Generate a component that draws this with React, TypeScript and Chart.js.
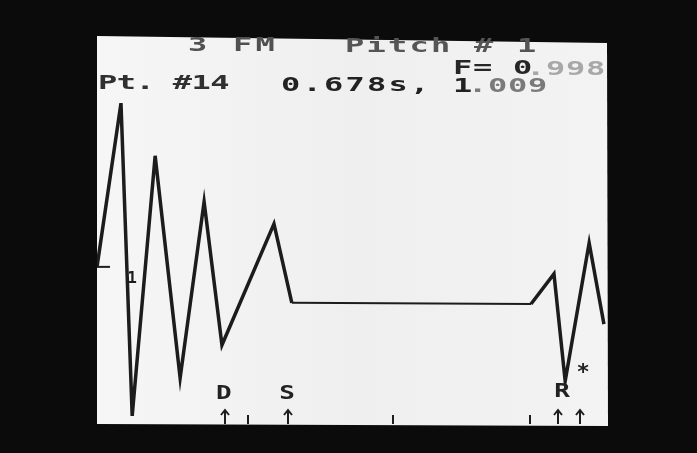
import React, { useEffect, useRef } from 'react';
import { Chart, registerables } from 'chart.js';

Chart.register(...registerables);

// Pitch contour (time in % of display, value in % of display height)
const timeValues = [0, 4.7, 6.9, 11.4, 16.3, 21.0, 24.5, 34.7, 38.2, 85.1, 89.6, 91.8, 96.5, 99.4];
const pitchValues = [40.6, 82.9, 2.1, 69.3, 11.9, 57.4, 20.4, 51.7, 31.3, 31.0, 38.8, 11.1, 46.8, 25.8];

// Event markers along the time axis
const eventLabels = ['D', 'S', 'R'];
const eventLabelTimes = [25.1, 37.5, 91.4];
const eventLabelLevels = [8.3, 8.3, 8.8];
const arrowTimes = [25.1, 37.5, 90.4, 94.7];
const tickTimes = [29.6, 58.0, 84.9];
const cursorTime = [95.3];
const cursorLevel = [14.5];
const referenceLevel = [40.6];
const referenceLabel = ['1'];

// Header texts
const headerTitle = ['3 FM', 'Pitch # 1'];
const headerFactor = ['F= 0', '.998'];
const headerPoint = ['Pt. #14', '0.678s,', '1', '.009'];

const MONO = '"DejaVu Sans Mono", "Liberation Mono", monospace';
const SX = 1.6;
const ADV = 12.04;

function drawText(ctx: CanvasRenderingContext2D, text: string, x: number, y: number, color: string, pitch: number, size = 20, sx = SX) {
  ctx.save();
  ctx.translate(x - 2, y);
  ctx.scale(sx, 1);
  ctx.font = `bold ${size}px ${MONO}`;
  const adv = (ADV * size) / 20;
  (ctx as any).letterSpacing = `${pitch / sx - adv}px`;
  ctx.fillStyle = color;
  ctx.textAlign = 'left';
  ctx.textBaseline = 'alphabetic';
  ctx.fillText(text, 0, 0);
  ctx.restore();
}

const screenPlugin = {
  id: 'screen',
  beforeDraw(chart: any) {
    const { ctx, width, height } = chart;
    ctx.save();
    ctx.fillStyle = '#0b0b0b';
    ctx.fillRect(0, 0, width, height);
    ctx.beginPath();
    ctx.moveTo(97, 36);
    ctx.lineTo(607, 43);
    ctx.lineTo(608, 426);
    ctx.lineTo(97, 424);
    ctx.closePath();
    const g = ctx.createLinearGradient(97, 0, 607, 0);
    g.addColorStop(0, '#f6f6f6');
    g.addColorStop(0.5, '#efefef');
    g.addColorStop(1, '#f3f3f3');
    ctx.fillStyle = g;
    ctx.fill();
    ctx.restore();
  },
  afterDraw(chart: any) {
    const { ctx } = chart;
    const xs = chart.scales.x;
    const ys = chart.scales.y;
    const bottom = chart.chartArea.bottom;
    ctx.save();

    // header
    drawText(ctx, headerTitle[0], 190, 51, '#505050', 22.5);
    drawText(ctx, headerTitle[1], 347, 52, '#555555', 21.5);
    drawText(ctx, headerFactor[0], 455, 74, '#262626', 20);
    drawText(ctx, headerFactor[1], 528, 75, '#a8a8a8', 20);
    drawText(ctx, headerPoint[0], 100, 89, '#303030', 18.7);
    drawText(ctx, headerPoint[1], 283, 91, '#222222', 21.5);
    drawText(ctx, headerPoint[2], 455, 92, '#222222', 20);
    drawText(ctx, headerPoint[3], 470, 92, '#7a7a7a', 20);

    // reference level marker
    const ry = ys.getPixelForValue(referenceLevel[0]);
    ctx.strokeStyle = '#1e1e1e';
    ctx.lineWidth = 2;
    ctx.beginPath();
    ctx.moveTo(xs.left, ry);
    ctx.lineTo(xs.left + 13, ry);
    ctx.stroke();
    ctx.font = `bold 16px ${MONO}`;
    ctx.fillStyle = '#1e1e1e';
    ctx.textAlign = 'center';
    ctx.textBaseline = 'alphabetic';
    ctx.fillText(referenceLabel[0], 132, ry + 16);

    // event labels
    eventLabels.forEach((lab, i) => {
      drawText(ctx, lab, xs.getPixelForValue(eventLabelTimes[i]) - 7, ys.getPixelForValue(eventLabelLevels[i]) + 7, '#222', 20, 20, 1.3);
    });
    // cursor star
    ctx.font = `bold 22px ${MONO}`;
    ctx.textAlign = 'center';
    ctx.textBaseline = 'middle';
    ctx.fillStyle = '#222';
    ctx.fillText('*', xs.getPixelForValue(cursorTime[0]), ys.getPixelForValue(cursorLevel[0]) + 5);

    // arrows
    ctx.strokeStyle = '#1e1e1e';
    ctx.lineWidth = 2;
    arrowTimes.forEach((t) => {
      const x = Math.round(xs.getPixelForValue(t));
      ctx.beginPath();
      ctx.moveTo(x, bottom);
      ctx.lineTo(x, bottom - 14);
      ctx.moveTo(x - 4, bottom - 9);
      ctx.lineTo(x, bottom - 14);
      ctx.lineTo(x + 4, bottom - 9);
      ctx.stroke();
    });
    tickTimes.forEach((t) => {
      const x = Math.round(xs.getPixelForValue(t));
      ctx.beginPath();
      ctx.moveTo(x, bottom);
      ctx.lineTo(x, bottom - 9);
      ctx.stroke();
    });
    ctx.restore();
  },
};

export default function App() {
  const ref = useRef<HTMLCanvasElement | null>(null);
  useEffect(() => {
    document.body.style.margin = '0';
    document.body.style.background = '#0b0b0b';
    if (!ref.current) return;
    const data = timeValues.map((t, i) => ({ x: t, y: pitchValues[i] }));
    const chart = new Chart(ref.current, {
      type: 'line',
      data: {
        datasets: [
          {
            data,
            borderColor: '#1c1c1c',
            borderWidth: 3.5,
            pointRadius: 0,
            tension: 0,
            fill: false,
            segment: {
              borderWidth: (c: any) => (Math.abs(c.p0.parsed.y - c.p1.parsed.y) < 1 ? 2 : 3.5),
            },
          } as any,
        ],
      },
      options: {
        animation: false,
        responsive: false,
        layout: { padding: { left: 97, right: 90, top: 37, bottom: 29 } },
        plugins: { legend: { display: false }, tooltip: { enabled: false }, title: { display: false } },
        scales: {
          x: { type: 'linear', min: 0, max: 100, display: false },
          y: { type: 'linear', min: 0, max: 100, display: false },
        },
      },
      plugins: [screenPlugin],
    });
    return () => chart.destroy();
  }, []);
  return (
    <div style={{ position: 'fixed', left: 0, top: 0, width: 697, height: 453, background: '#0b0b0b' }}>
      <canvas ref={ref} width={697} height={453} style={{ display: 'block' }} />
    </div>
  );
}
